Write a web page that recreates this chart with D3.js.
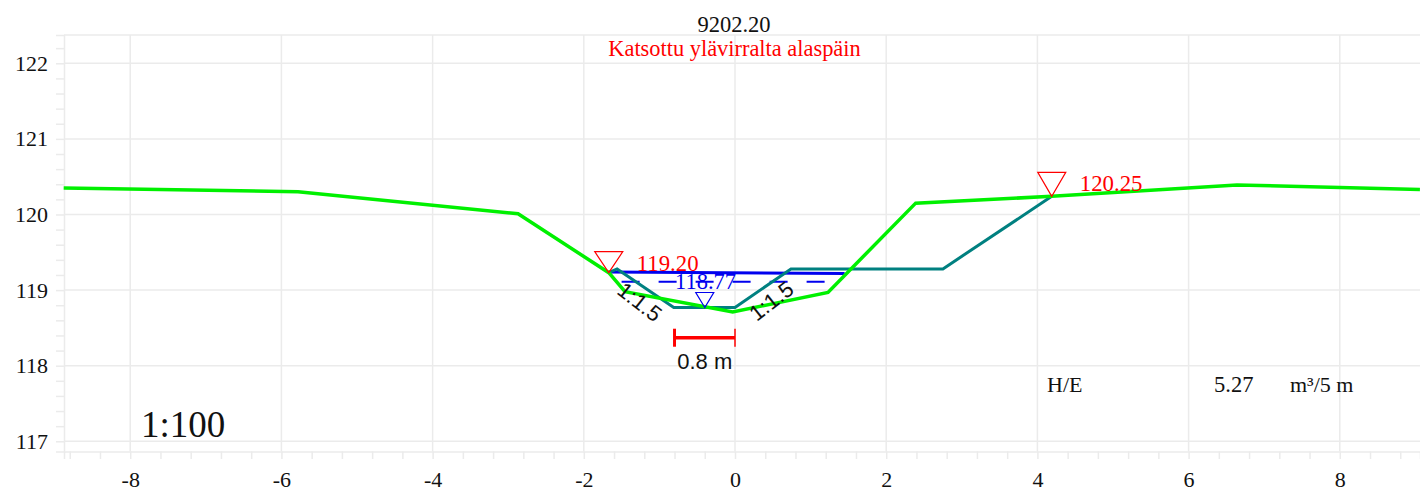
<!DOCTYPE html>
<html>
<head>
<meta charset="utf-8">
<script src="https://cdn.jsdelivr.net/npm/d3@7"></script>
<style>
    html, body { margin: 0; background: #fff; overflow: hidden; }
    text { font-family: "Liberation Serif", serif; }
    .sans { font-family: "Liberation Sans", sans-serif; }
</style>
</head>
<body>
<svg id="chart" width="1420" height="493"></svg>
<script>
// values
const groundX = [-8.88, -5.78, -2.87, -1.67, -1.455, -0.03, 1.23, 2.39, 4.19, 6.64, 9.06]
const groundY = [120.35, 120.30, 120.01, 119.23, 118.98, 118.71, 118.97, 120.15, 120.24, 120.39, 120.33]
const designX = [-1.67, -1.56, -0.81, 0, 0.74, 2.75, 4.19]
const designY = [119.23, 119.28, 118.77, 118.77, 119.28, 119.28, 120.24]
const waterX = [-1.67, 1.45]
const waterY = [119.24, 119.22]
const meanWaterX = [-1.5, 1.37]
const meanWaterY = [119.11, 119.11]
const xMajor = [-8, -6, -4, -2, 0, 2, 4, 6, 8]
const yMajor = [117, 118, 119, 120, 121, 122]
const xMinor = d3.range(-22, 23).map(i => i * 0.4)
const yMinor = d3.range(0, 27).map(i => 117 + i * 0.2)
const markers = [
    { x: -1.67, y: 119.23, label: "119.20", color: "#ff0000", w: 14, h: 21, dx: 28, dy: -2 },
    { x: 4.19, y: 120.24, label: "120.25", color: "#ff0000", w: 14, h: 24, dx: 28, dy: -5 },
    { x: -0.4, y: 118.77, label: "", color: "#0000ee", w: 9, h: 15, dx: 0, dy: 0 }
]

const plotLeft = 64, plotRight = 1420, plotTop = 35, plotBottom = 451.5
const x = d3.scaleLinear().domain([-8.876, 9.061]).range([plotLeft, plotRight])
const y = d3.scaleLinear().domain([116.865, 122.374]).range([plotBottom, plotTop])

const svg = d3.select("#chart")
const gridColor = "#ebebeb"

// grid
svg.append("g").selectAll("line").data(xMajor).enter().append("line")
    .attr("x1", d => x(d)).attr("x2", d => x(d))
    .attr("y1", plotTop).attr("y2", plotBottom)
    .attr("stroke", gridColor).attr("stroke-width", 1.5)
svg.append("g").selectAll("line").data(yMajor).enter().append("line")
    .attr("x1", plotLeft).attr("x2", plotRight)
    .attr("y1", d => y(d)).attr("y2", d => y(d))
    .attr("stroke", gridColor).attr("stroke-width", 1.5)
svg.append("line").attr("x1", plotLeft).attr("x2", plotRight).attr("y1", plotTop).attr("y2", plotTop)
    .attr("stroke", gridColor).attr("stroke-width", 1.5)

// axes
const xTicks = svg.append("g").attr("transform", `translate(0,${plotBottom})`)
    .call(d3.axisBottom(x).tickValues(xMinor).tickSize(7.5).tickFormat(""))
const yTicks = svg.append("g").attr("transform", `translate(${plotLeft},0)`)
    .call(d3.axisLeft(y).tickValues(yMinor).tickSize(8).tickFormat(""))
const xLabels = svg.append("g").attr("transform", `translate(0,${plotBottom})`)
    .call(d3.axisBottom(x).tickValues(xMajor).tickSize(0).tickPadding(20).tickFormat(d => String(d)))
const yLabels = svg.append("g").attr("transform", `translate(${plotLeft},0)`)
    .call(d3.axisLeft(y).tickValues(yMajor).tickSize(0).tickPadding(16).tickFormat(d => String(d)))
;[xTicks, yTicks].forEach(g => {
    g.selectAll("path, line").attr("stroke", gridColor).attr("stroke-width", 1.5)
})
;[xLabels, yLabels].forEach(g => {
    g.select("path").remove()
    g.selectAll("text").attr("font-size", 22).attr("font-family", "Liberation Serif").attr("fill", "#111")
})

const line = d3.line().x(d => x(d[0])).y(d => y(d[1]))

// water levels
svg.append("path").attr("d", line(d3.zip(waterX, waterY)))
    .attr("fill", "none").attr("stroke", "#0000ee").attr("stroke-width", 3)
svg.append("path").attr("d", line(d3.zip(meanWaterX, meanWaterY)))
    .attr("fill", "none").attr("stroke", "#0000ee").attr("stroke-width", 2.2)
    .attr("stroke-dasharray", "18 19")

// design section, then ground
svg.append("path").attr("d", line(d3.zip(designX, designY)))
    .attr("fill", "none").attr("stroke", "#008080").attr("stroke-width", 3)
svg.append("path").attr("d", line(d3.zip(groundX, groundY)))
    .attr("fill", "none").attr("stroke", "#00f000").attr("stroke-width", 3.5)

// level markers
markers.forEach(m => {
    const px = x(m.x), py = y(m.y)
    svg.append("path")
        .attr("d", `M${px},${py}L${px - m.w},${py - m.h}L${px + m.w},${py - m.h}Z`)
        .attr("fill", "none").attr("stroke", m.color).attr("stroke-width", 1.2)
    if (m.label) {
        svg.append("text").attr("x", px + m.dx).attr("y", py + m.dy)
            .attr("font-size", 22.8).attr("fill", m.color).text(m.label)
    }
})
svg.append("text").attr("x", x(-0.39)).attr("y", y(119.11) + 7)
    .attr("text-anchor", "middle").attr("font-size", 22.5).attr("fill", "#0000ee").text("118.77")

// scale bar
const barY = y(118.37)
svg.append("line").attr("x1", x(-0.8)).attr("x2", x(0)).attr("y1", barY).attr("y2", barY)
    .attr("stroke", "#ff0000").attr("stroke-width", 3.5)
svg.append("line").attr("x1", x(-0.8)).attr("x2", x(-0.8)).attr("y1", barY - 9).attr("y2", barY + 9)
    .attr("stroke", "#ff0000").attr("stroke-width", 3)
svg.append("line").attr("x1", x(0)).attr("x2", x(0)).attr("y1", barY - 9).attr("y2", barY + 9)
    .attr("stroke", "#ff0000").attr("stroke-width", 1.5)
svg.append("text").attr("class", "sans").attr("x", x(-0.4)).attr("y", 369)
    .attr("text-anchor", "middle").attr("font-size", 22).attr("fill", "#111").text("0.8 m")

// slope labels
svg.append("text").attr("class", "sans").attr("text-anchor", "middle").attr("font-size", 22).attr("fill", "#111")
    .attr("transform", "translate(635,308) rotate(38)").text("1:1.5")
svg.append("text").attr("class", "sans").attr("text-anchor", "middle").attr("font-size", 22).attr("fill", "#111")
    .attr("transform", "translate(776,307) rotate(-38)").text("1:1.5")

// titles and notes
svg.append("text").attr("x", 734).attr("y", 31.5).attr("text-anchor", "middle")
    .attr("font-size", 22.5).attr("fill", "#111").text("9202.20")
svg.append("text").attr("x", 734.5).attr("y", 56).attr("text-anchor", "middle")
    .attr("font-size", 22.4).attr("fill", "#ff0000").text("Katsottu ylävirralta alaspäin")
svg.append("text").attr("x", 141).attr("y", 437).attr("font-size", 37).attr("fill", "#111").text("1:100")
svg.append("text").attr("x", 1047).attr("y", 392).attr("font-size", 22).attr("fill", "#111").text("H/E")
svg.append("text").attr("x", 1214).attr("y", 392).attr("font-size", 22.5).attr("fill", "#111").text("5.27")
svg.append("text").attr("x", 1290).attr("y", 392).attr("font-size", 22).attr("fill", "#111").text("m³/5 m")
</script>
</body>
</html>
